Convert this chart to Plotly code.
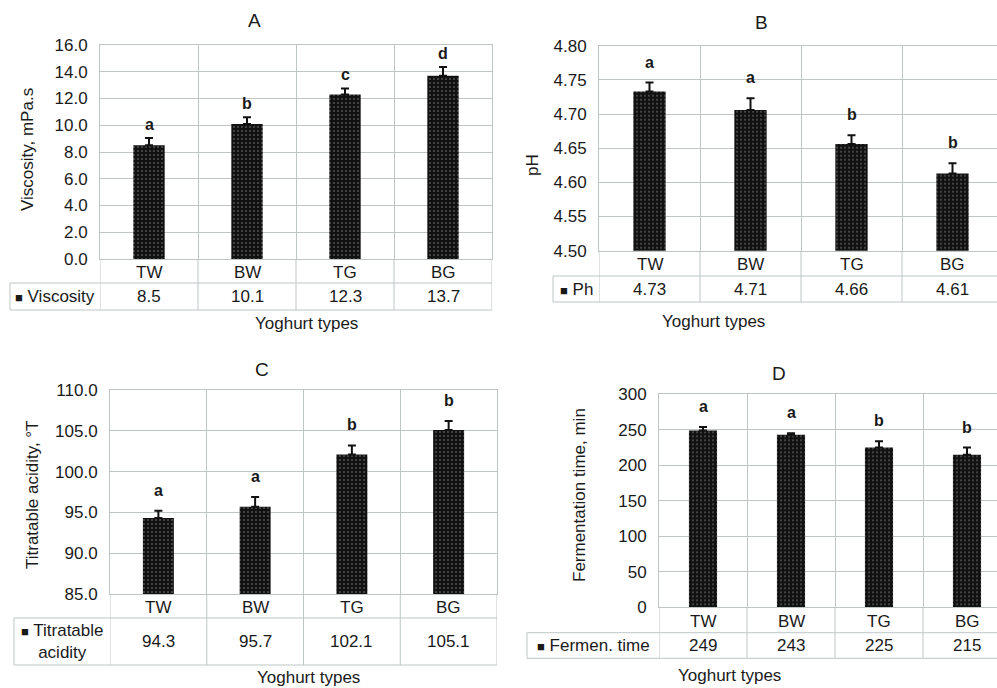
import plotly.graph_objects as go

# ---------------- data ----------------
categories = ["TW", "BW", "TG", "BG"]

viscosity = [8.5, 10.1, 12.3, 13.7]
viscosity_err = [0.55, 0.5, 0.45, 0.65]
viscosity_letters = ["a", "b", "c", "d"]

ph = [4.733, 4.706, 4.656, 4.613]
ph_err = [0.013, 0.017, 0.013, 0.015]
ph_letters = ["a", "a", "b", "b"]

acidity = [94.3, 95.7, 102.1, 105.1]
acidity_err = [0.9, 1.2, 1.1, 1.1]
acidity_letters = ["a", "a", "b", "b"]

ferm_time = [249, 243, 225, 215]
ferm_err = [5, 2, 9, 10]
ferm_letters = ["a", "a", "b", "b"]

W, H = 997, 688
FONT = "Liberation Sans, Arial, sans-serif"
TXT = "#1a1a1a"
GRID = "#bfc5c5"
FS = 17


def px(x):
    return x / W


def py(y):
    return 1 - y / H


panels = [
    dict(title="A", vals=viscosity, err=viscosity_err, letters=viscosity_letters,
         fmt="{:.1f}", tickfmt=".1f", yrange=[0, 16], dtick=2,
         ytitle="Viscosity, mPa.s", legend="Viscosity",
         l=100, r=492, t=45, b=259, row1=283, row2=310, leg_l=10,
         title_xy=(246, 20), ytitle_xy=(28, 150), xtitle_xy=(253, 323),
         cat_w=98, letter_shift=3),
    dict(title="B", vals=ph, err=ph_err, letters=ph_letters,
         fmt="{:.2f}", tickfmt=".2f", yrange=[4.5, 4.8], dtick=0.05,
         ytitle="pH", legend="Ph",
         l=599, r=997, t=45.7, b=250.7, row1=276, row2=302, leg_l=553,
         title_xy=(770, 22), ytitle_xy=(532, 165), xtitle_xy=(767, 322),
         cat_w=101, letter_shift=10),
    dict(title="C", vals=acidity, err=acidity_err, letters=acidity_letters,
         fmt="{:.1f}", tickfmt=".1f", yrange=[85, 110], dtick=5,
         ytitle="Titratable acidity, °T", legend="Titratable<br>acidity",
         l=110, r=497, t=390, b=594, row1=618, row2=665, leg_l=14,
         title_xy=(253, 370), ytitle_xy=(33, 495), xtitle_xy=(255, 677),
         cat_w=96.75, letter_shift=10),
    dict(title="D", vals=ferm_time, err=ferm_err, letters=ferm_letters,
         fmt="{:.0f}", tickfmt="d", yrange=[0, 300], dtick=50,
         ytitle="Fermentation time, min", legend="Fermen. time",
         l=659, r=997, t=394.3, b=607.3, row1=632.7, row2=658.3, leg_l=527,
         title_xy=(788, 373), ytitle_xy=(580, 495), xtitle_xy=(783, 675),
         cat_w=88, letter_shift=10),
]

fig = go.Figure()
shapes = []
annotations = []
n = len(categories)
xs = list(range(n))

for i, p in enumerate(panels, start=1):
    xa = "x" if i == 1 else f"x{i}"
    ya = "y" if i == 1 else f"y{i}"
    xkey = "xaxis" if i == 1 else f"xaxis{i}"
    ykey = "yaxis" if i == 1 else f"yaxis{i}"
    full = p["r"] < W
    xmax = -0.5 + (p["r"] - p["l"]) / p["cat_w"]

    fig.add_trace(go.Bar(
        x=xs, y=p["vals"], xaxis=xa, yaxis=ya, width=0.32,
        marker=dict(color="#111111", line=dict(width=0),
                    pattern=dict(shape=".", fgcolor="#ffffff", bgcolor="#111111",
                                 size=4, solidity=0.12)),
        error_y=dict(type="data", array=p["err"], arrayminus=[0] * n,
                     symmetric=False, color="#111111", thickness=2, width=4),
        showlegend=False, hoverinfo="skip",
    ))

    fig.layout[xkey] = dict(
        domain=[px(p["l"]), px(p["r"])], range=[-0.5, xmax], anchor=ya,
        tickvals=[k - 0.5 for k in range(n + 1)], showticklabels=False,
        showgrid=True, gridcolor=GRID, gridwidth=1, zeroline=False,
        showline=True, linecolor=GRID, linewidth=1, mirror=True, ticks="",
        automargin=False,
    )
    fig.layout[ykey] = dict(
        domain=[py(p["b"]), py(p["t"])], range=p["yrange"], anchor=xa,
        dtick=p["dtick"], tick0=p["yrange"][0], tickformat=p["tickfmt"],
        showgrid=True, gridcolor=GRID, gridwidth=1, zeroline=False,
        showline=True, linecolor=GRID, linewidth=1, mirror=full,
        ticks="outside", ticklen=8, tickcolor="rgba(0,0,0,0)",
        tickfont=dict(family=FONT, size=FS, color=TXT), automargin=False,
    )

    # ---- data table grid ----
    for k in range(n + 1):
        xv = k - 0.5
        if xv <= xmax + 1e-9:
            shapes.append(dict(type="line", xref=xa, yref="paper", x0=xv, x1=xv,
                               y0=py(p["b"]), y1=py(p["row2"]),
                               line=dict(color=GRID, width=1)))
    for yy in (p["row1"], p["row2"]):
        shapes.append(dict(type="line", xref="paper", yref="paper",
                           x0=px(p["leg_l"]), x1=px(p["r"]), y0=py(yy), y1=py(yy),
                           line=dict(color=GRID, width=1)))
    shapes.append(dict(type="line", xref="paper", yref="paper",
                       x0=px(p["leg_l"]), x1=px(p["leg_l"]),
                       y0=py(p["row1"]), y1=py(p["row2"]),
                       line=dict(color=GRID, width=1)))

    row1_mid = (p["b"] + p["row1"]) / 2
    row2_mid = (p["row1"] + p["row2"]) / 2
    for k, (c, v, e, let) in enumerate(zip(categories, p["vals"], p["err"], p["letters"])):
        annotations.append(dict(xref=xa, yref="paper", x=k, y=py(row1_mid + 1),
                                text=c, showarrow=False, yanchor="middle",
                                font=dict(family=FONT, size=FS, color=TXT)))
        annotations.append(dict(xref=xa, yref="paper", x=k, y=py(row2_mid),
                                text=p["fmt"].format(v), showarrow=False,
                                yanchor="middle",
                                font=dict(family=FONT, size=FS, color=TXT)))
        annotations.append(dict(xref=xa, yref=ya, x=k, y=v + e, text=f"<b>{let}</b>",
                                showarrow=False, yanchor="bottom",
                                yshift=p["letter_shift"],
                                font=dict(family=FONT, size=16, color=TXT)))

    annotations.append(dict(
        xref="paper", yref="paper", x=px((p["leg_l"] + p["l"]) / 2), y=py(row2_mid),
        text="<span style='font-size:13px'>■</span> " + p["legend"], showarrow=False,
        xanchor="center", yanchor="middle", align="center",
        font=dict(family=FONT, size=FS, color=TXT)))

    tx, ty = p["title_xy"]
    annotations.append(dict(xref="paper", yref="paper", x=px(tx), y=py(ty),
                            text=p["title"], showarrow=False, yanchor="middle",
                            font=dict(family=FONT, size=19, color=TXT)))
    ax_, ay_ = p["ytitle_xy"]
    annotations.append(dict(xref="paper", yref="paper", x=px(ax_), y=py(ay_),
                            text=p["ytitle"], showarrow=False, textangle=-90,
                            xanchor="center", yanchor="middle",
                            font=dict(family=FONT, size=FS, color=TXT)))
    bx, by = p["xtitle_xy"]
    annotations.append(dict(xref="paper", yref="paper", x=px(bx), y=py(by),
                            text="Yoghurt types", showarrow=False, yanchor="middle",
                            font=dict(family=FONT, size=FS, color=TXT)))

fig.update_layout(
    width=W, height=H, margin=dict(l=0, r=0, t=0, b=0, autoexpand=False),
    paper_bgcolor="white", plot_bgcolor="white",
    shapes=shapes, annotations=annotations, showlegend=False,
    font=dict(family=FONT, size=FS, color=TXT),
)

fig.write_html(
    "out.html",
    config={"displayModeBar": False},
    post_script="document.body.style.margin='0';document.body.style.padding='0';",
)
